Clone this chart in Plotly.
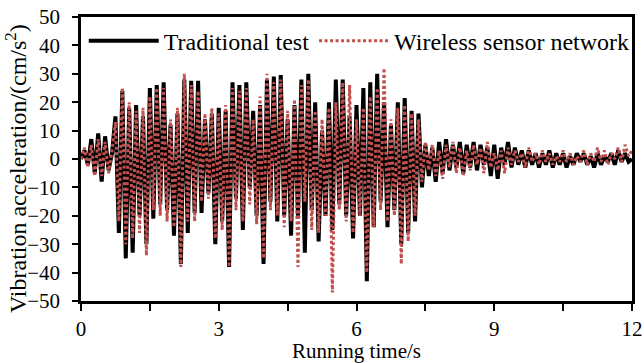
import numpy as np
import plotly.graph_objects as go

# Sampling step of the recorded acceleration traces (s)
dt = 0.075

# Vibration acceleration (cm/s^2), traditional test
traditional = [
    0, 3, -2, 7, -5, 9, -8, 8, -4, 2,
    15, -26, 24, -35, 18, -33, 19, -20, 15, -30,
    25, -21, 26, -16, 27, -18, 12, -27, 16, -37,
    28, -26, 27.5, -19, 27.5, -19, 14, -12, 16, -30,
    18, -22, 17, -38, 27, -14, 26, -25, 27, -10,
    17, -20, 19, -37, 28, -15, 29, -22, 29.6, -20,
    14, -27, 19, -20, 28, -33, 30, -18, 20, -29,
    10, -20, 20, -25, 28, -16, 28, -20, 15, -28,
    19, -20, 25, -43, 27, -24, 30, -15, 20, -24,
    12, -18, 20, -30, 21.5, -26, 17, -22, 16, -10,
    5,
    -6, 4, -8, 6, -5, 7, -4, 5, -3, 6,
    -5, 5, -3, 6, -4, 5, -2, 4, -6, 5,
    -7, 4, -2, 6, -3, 4, -2, 3, -3, 3,
    -2, 2, -3, 2, -2, 3, -3, 2, -2, 2,
    -3, 1, -2, 2, -1, 2, -2, 1, -3, 2,
    -2, 1, -1, 2, -2, 3, -1, 2, -1, 0,
]

# Vibration acceleration (cm/s^2), wireless sensor network
wireless = [
    0, 4, -3, 5, -6, 7, -6, 6, -5, 3,
    13, -22, 25, -30, 20, -28, 17, -26, 18, -34,
    22, -18, 25, -20, 25, -22, 14, -24, 18, -38,
    30, -22, 26, -22, 24, -15, 16, -14, 18, -28,
    16, -25, 19, -38, 25, -18, 24, -22, 25, -16,
    14, -23, 22, -35, 30, -18, 27, -20, 28, -24,
    17, -22, 21, -38, 26, -15, 28, -25, 17, -26,
    14, -20, 18, -47, 20, -18, 27, -22, 26, -26,
    14, -20, 18, -40, 22, -24, 25, -18, 32, -22,
    14, -20, 18, -37, 19, -29, 16, -20, 14, -8,
    6,
    -4, 5, -6, 3, -7, 5, -3, 6, -5, 4,
    -6, 3, -4, 5, -2, 4, -5, 6, -3, 2,
    -4, 3, -5, 4, -2, 3, -1, 2, -3, 4,
    -1, 2, -2, 3, -1, 2, -2, 1, -1, 3,
    -1, 2, -2, 1, -1, 3, -2, 2, -1, 4,
    -1, 3, -2, 2, 0, 4, -1, 5, 1, 3,
]

time_s = np.round(np.arange(len(traditional)) * dt, 3)

x_tick_vals = [0, 1.5, 3, 4.5, 6, 7.5, 9, 10.5, 12]
x_tick_text = ["0", "", "3", "", "6", "", "9", "", "12"]
y_tick_vals = list(range(-50, 51, 10))

FONT = "Times New Roman, Liberation Serif, serif"
RED = "rgb(192,80,77)"

fig = go.Figure()
fig.add_trace(go.Scatter(
    x=time_s, y=traditional, mode="lines", name="Traditional test",
    line=dict(color="black", width=4), legend="legend",
))
fig.add_trace(go.Scatter(
    x=time_s, y=wireless, mode="lines", name="Wireless sensor network",
    line=dict(color=RED, width=3, dash="3px,2.5px"), legend="legend2",
))

legend_style = dict(
    orientation="h", y=0.915, xanchor="left", yanchor="middle",
    bgcolor="rgba(0,0,0,0)", font=dict(size=24), itemwidth=70,
)

fig.update_layout(
    width=644, height=363,
    margin=dict(l=81, r=12, t=17, b=62, autoexpand=False),
    paper_bgcolor="white", plot_bgcolor="white",
    font=dict(family=FONT, size=19, color="black"),
    showlegend=True,
    legend=dict(x=0.005, **legend_style),
    legend2=dict(x=0.423, **legend_style),
    xaxis=dict(
        range=[0, 12], tickvals=x_tick_vals, ticktext=x_tick_text,
        ticks="outside", ticklen=7, tickwidth=2, tickcolor="black",
        showline=True, linecolor="black", linewidth=2.5, mirror=True,
        showgrid=False, zeroline=False,
        title=dict(text="Running time/s", standoff=9, font=dict(size=21)),
        tickfont=dict(size=21), ticklabelstandoff=0,
    ),
    yaxis=dict(
        range=[-50, 50], tickvals=y_tick_vals,
        ticks="outside", ticklen=6, tickwidth=2, tickcolor="black",
        showline=True, linecolor="black", linewidth=2.5, mirror=True,
        showgrid=False, zeroline=False,
        tickfont=dict(size=21), ticklabelstandoff=8,
    ),
    annotations=[dict(
        text="Vibration acceleration/(cm/s<sup>2</sup>)",
        xref="paper", yref="paper", x=-0.118, y=0.468,
        xanchor="center", yanchor="middle", textangle=-90,
        showarrow=False, font=dict(size=24),
    )],
)

fig.write_html("out.html")
